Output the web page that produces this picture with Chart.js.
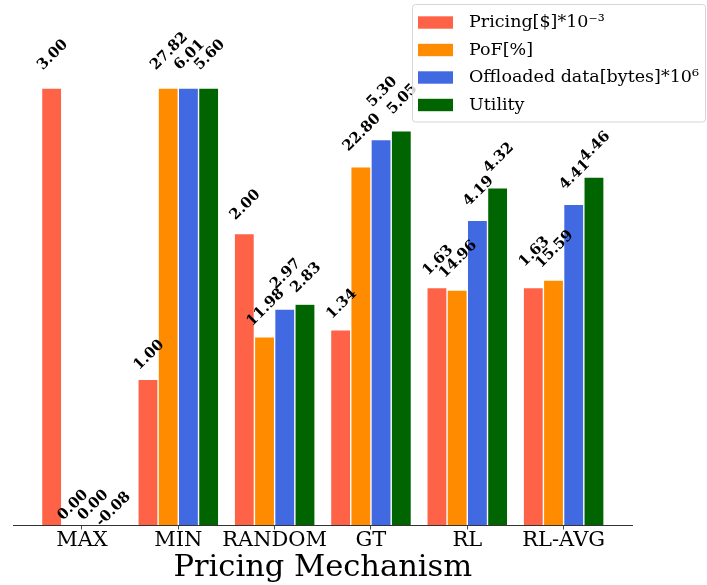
<!DOCTYPE html>
<html><head><meta charset="utf-8">
<script src="https://cdn.jsdelivr.net/npm/chart.js@4.4.0/dist/chart.umd.min.js"></script>
<style>html,body{margin:0;padding:0;background:#fff;} #wrap{width:707px;height:585px;position:relative;}</style>
</head><body><div id="wrap"><canvas id="c" width="707" height="585"></canvas></div>
<script>
const categories = ['MAX', 'MIN', 'RANDOM', 'GT', 'RL', 'RL-AVG'];
const seriesNames = ['Pricing[$]*10⁻³', 'PoF[%]', 'Offloaded data[bytes]*10⁶', 'Utility'];
const pricing   = [3.00, 1.00, 2.00, 1.34, 1.63, 1.63];
const pof       = [0.00, 27.82, 11.98, 22.80, 14.96, 15.59];
const offloaded = [0.00, 6.01, 2.97, 5.30, 4.19, 4.41];
const utility   = [-0.08, 5.60, 2.83, 5.05, 4.32, 4.46];
const labelLift = [[0,0,0,0,0,0.02],[0,0,0,0,0,0],[0,0,0.02,0.037,0,0],[0,0,0,0,0,0]];
const colors = ['#FF6347', '#FF8C00', '#4169E1', '#006400'];

const seriesValues = [pricing, pof, offloaded, utility];

const datasets = seriesValues.map((arr, di) => {
  const mx = Math.max(...arr);
  return {
    label: seriesNames[di],
    data: arr.map((v, i) => ({x: i, y: v / mx})),
    backgroundColor: colors[di],
    borderColor: '#ffffff',
    borderWidth: 0.7,
    categoryPercentage: 0.84,
    barPercentage: 1.0
  };
});

const valueLabels = {
  id: 'valueLabels',
  afterDatasetsDraw(chart) {
    const ctx = chart.ctx, ys = chart.scales.y;
    const fs = 14.8, capH = 0.73 * fs;
    ctx.save();
    ctx.font = 'bold ' + fs + 'px "DejaVu Serif"';
    ctx.fillStyle = '#000';
    ctx.textBaseline = 'alphabetic';
    ctx.textAlign = 'left';
    chart.data.datasets.forEach((ds, di) => {
      const meta = chart.getDatasetMeta(di);
      meta.data.forEach((bar, i) => {
        const raw = seriesValues[di][i];
        const h = ds.data[i].y;
        const txt = raw.toFixed(2);
        const w = ctx.measureText(txt).width;
        const yv = h * 1.03 + 0.01 + labelLift[di][i];
        const oy = ys.getPixelForValue(yv);
        const ox = bar.x - 0.7071 * (w - capH) / 2;
        ctx.save();
        ctx.translate(ox, oy);
        ctx.rotate(-Math.PI / 4);
        ctx.fillText(txt, 0, 0);
        ctx.restore();
      });
    });
    ctx.restore();
  }
};

const customLegend = {
  id: 'customLegend',
  afterDraw(chart) {
    const ctx = chart.ctx;
    ctx.save();
    const bx = 412.5, by = 4.5, bw = 293, bh = 117.5, r = 3;
    ctx.beginPath();
    ctx.moveTo(bx + r, by);
    ctx.lineTo(bx + bw - r, by); ctx.quadraticCurveTo(bx + bw, by, bx + bw, by + r);
    ctx.lineTo(bx + bw, by + bh - r); ctx.quadraticCurveTo(bx + bw, by + bh, bx + bw - r, by + bh);
    ctx.lineTo(bx + r, by + bh); ctx.quadraticCurveTo(bx, by + bh, bx, by + bh - r);
    ctx.lineTo(bx, by + r); ctx.quadraticCurveTo(bx, by, bx + r, by);
    ctx.closePath();
    ctx.fillStyle = 'rgba(255,255,255,0.8)';
    ctx.fill();
    ctx.strokeStyle = '#d6d6d6';
    ctx.lineWidth = 1;
    ctx.stroke();
    ctx.font = '17.5px "DejaVu Serif"';
    ctx.textBaseline = 'middle';
    ctx.textAlign = 'left';
    chart.data.datasets.forEach((ds, di) => {
      const cy = 22.5 + 27.5 * di;
      ctx.fillStyle = ds.backgroundColor;
      ctx.fillRect(418, cy - 6.2, 35, 12.4);
      ctx.fillStyle = '#000';
      ctx.fillText(ds.label, 469, cy);
    });
    ctx.restore();
  }
};

new Chart(document.getElementById('c'), {
  type: 'bar',
  data: { datasets },
  options: {
    responsive: false,
    animation: false,
    devicePixelRatio: 1,
    layout: { padding: { left: 13.6, right: 75, top: 0.6, bottom: 0 } },
    plugins: { legend: { display: false }, tooltip: { enabled: false } },
    scales: {
      x: {
        type: 'linear', min: -0.71, max: 5.71, offset: false,
        afterBuildTicks: s => { s.ticks = categories.map((_, i) => ({ value: i })); },
        afterFit: s => { s.height = 60; },
        ticks: {
          callback: v => categories[v] ?? '',
          font: { family: 'DejaVu Serif', size: 21 },
          color: '#000', padding: -1.5, maxRotation: 0, autoSkip: false
        },
        grid: { display: true, offset: false, drawOnChartArea: false, drawTicks: true, tickLength: 4.5, color: '#333', tickWidth: 0.9 },
        border: { display: true, color: '#333', width: 1 },
        title: { display: true, text: 'Pricing Mechanism', font: { family: 'DejaVu Serif', size: 30.5 }, color: '#000', padding: { top: 0, bottom: -1.5 } }
      },
      y: { display: false, min: 0, max: 1.2 }
    }
  },
  plugins: [valueLabels, customLegend]
});
</script>
</body></html>
